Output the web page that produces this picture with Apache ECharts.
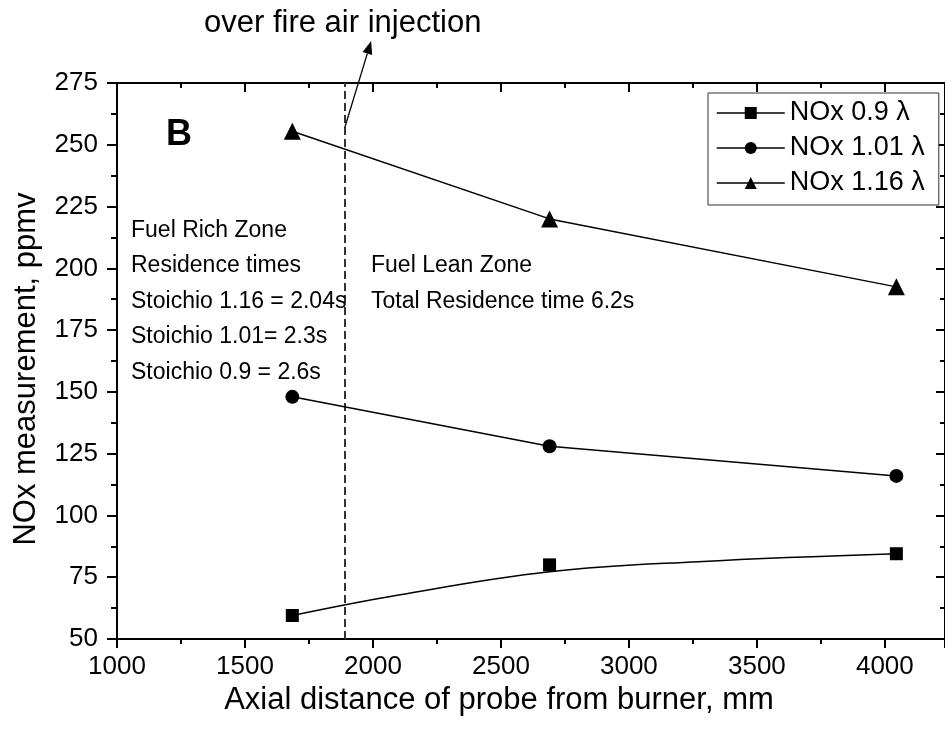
<!DOCTYPE html>
<html>
<head>
<meta charset="utf-8">
<script src="https://cdn.jsdelivr.net/npm/echarts@6/dist/echarts.min.js"></script>
<style>
  html, body { margin: 0; padding: 0; background: #fff; }
  #main { width: 945px; height: 729px; }
</style>
</head>
<body>
<div id="main"></div>
<script>
// probe positions (mm) and NOx readings (ppmv)
var distance = [1685, 2690, 4045];
var nox090 = [59.5, 80, 84.5];
var nox101 = [148, 128, 116];
var nox116 = [255.5, 220, 192.5];
// fitted curve drawn through the 0.9 points
var fitX = [1685, 2100, 2690, 3270, 4045];
var fitY = [59.5, 67.8, 77.2, 81.3, 84.5];
var xTicks = [1000, 1500, 2000, 2500, 3000, 3500, 4000];
var yTicks = [50, 75, 100, 125, 150, 175, 200, 225, 250, 275];
var ofaX = 1890;                       // over fire air injection
var arrowFrom = [1890, 257], arrowTo = [1993, 292];
var names = ['NOx 0.9 \u03bb', 'NOx 1.01 \u03bb', 'NOx 1.16 \u03bb'];

var FONT = '"Liberation Sans", Arial, sans-serif';

function pairs(xs, ys) {
  return xs.map(function (x, i) { return [x, ys[i]] })
}

var chart = echarts.init(document.getElementById('main'));

var axisLine = { lineStyle: { color: '#000', width: 2 } };

var option = {
  animation: false,
  backgroundColor: '#fff',
  textStyle: { fontFamily: FONT, color: '#000' },
  grid: { left: 117, top: 83, width: 830, height: 556 },
  legend: {
    orient: 'vertical',
    left: 708,
    top: 93,
    padding: [6, 14, 8, 8],
    itemGap: 7,
    itemWidth: 68,
    itemHeight: 15,
    borderColor: '#333',
    borderWidth: 1,
    backgroundColor: '#fff',
    textStyle: { fontFamily: FONT, fontSize: 27, color: '#000', lineHeight: 28 },
    lineStyle: { color: '#000', width: 1.5, opacity: 1 },
    data: names
  },
  xAxis: [
    {
      type: 'value',
      min: 1000,
      max: 4235,
      interval: 500,
      name: 'Axial distance of probe from burner, mm',
      nameLocation: 'middle',
      nameGap: 37,
      nameTextStyle: { fontFamily: FONT, fontSize: 31, color: '#000', padding: [0, 64, 0, 0] },
      axisLine: axisLine,
      axisTick: { length: 9, lineStyle: { width: 2, color: '#000' } },
      minorTick: { show: true, splitNumber: 2, length: 5, lineStyle: { width: 2, color: '#000' } },
      splitLine: { show: false },
      axisLabel: {
        fontFamily: FONT, fontSize: 26, color: '#000', margin: 15, showMaxLabel: false,
        formatter: function (v) { return xTicks.indexOf(v) >= 0 ? String(v) : '' }
      }
    },
    {
      type: 'value',
      position: 'top',
      min: 1000,
      max: 4235,
      interval: 500,
      axisLine: axisLine,
      axisTick: { inside: true, length: 9, lineStyle: { width: 2, color: '#000' } },
      minorTick: { show: true, splitNumber: 2, length: 5, lineStyle: { width: 2, color: '#000' } },
      splitLine: { show: false },
      axisLabel: { show: false }
    }
  ],
  yAxis: [
    {
      type: 'value',
      min: 50,
      max: 275,
      interval: 25,
      name: 'NOx measurement, ppmv',
      nameLocation: 'middle',
      nameGap: 75,
      nameTextStyle: { fontFamily: FONT, fontSize: 31, color: '#000', padding: [0, 16, 0, 0] },
      axisLine: axisLine,
      axisTick: { length: 10, lineStyle: { width: 2, color: '#000' } },
      minorTick: { show: true, splitNumber: 2, length: 6, lineStyle: { width: 2, color: '#000' } },
      splitLine: { show: false },
      axisLabel: {
        fontFamily: FONT, fontSize: 26, color: '#000', margin: 19,
        formatter: function (v) { return yTicks.indexOf(v) >= 0 ? String(v) : '' }
      }
    },
    {
      type: 'value',
      position: 'right',
      min: 50,
      max: 275,
      interval: 25,
      axisLine: axisLine,
      axisTick: { inside: true, length: 9, lineStyle: { width: 2, color: '#000' } },
      minorTick: { show: true, splitNumber: 2, length: 5, lineStyle: { width: 2, color: '#000' } },
      splitLine: { show: false },
      axisLabel: { show: false }
    }
  ],
  series: [
    {
      name: names[0],
      type: 'line',
      data: pairs(distance, nox090),
      symbol: 'rect',
      symbolSize: 13,
      itemStyle: { color: '#000' },
      lineStyle: { width: 0, opacity: 0 },
      z: 5
    },
    {
      name: names[1],
      type: 'line',
      data: pairs(distance, nox101),
      symbol: 'circle',
      symbolSize: 14,
      itemStyle: { color: '#000' },
      lineStyle: { color: '#000', width: 1.5 },
      z: 5
    },
    {
      name: names[2],
      type: 'line',
      data: pairs(distance, nox116),
      symbol: 'triangle',
      symbolSize: 17,
      itemStyle: { color: '#000' },
      lineStyle: { color: '#000', width: 1.5 },
      z: 5,
      markLine: {
        silent: true,
        symbol: 'none',
        label: { show: false },
        lineStyle: { color: '#333', width: 2, type: [8, 4] },
        data: [{ xAxis: ofaX }]
      }
    },
    {
      name: 'fit 0.9',
      type: 'line',
      data: pairs(fitX, fitY),
      smooth: 0.4,
      symbol: 'none',
      lineStyle: { color: '#000', width: 1.5 },
      z: 4
    }
  ]
};

chart.setOption(option);

// annotation texts and the arrow to the injection line
var p0 = chart.convertToPixel({ gridIndex: 0 }, arrowFrom);
var p1 = chart.convertToPixel({ gridIndex: 0 }, arrowTo);
var ang = Math.atan2(p1[1] - p0[1], p1[0] - p0[0]);
var headLen = 13, headW = 5;
var bx = p1[0] - headLen * Math.cos(ang), by = p1[1] - headLen * Math.sin(ang);
var nx = -Math.sin(ang), ny = Math.cos(ang);

function txt(x, y, s, size, bold) {
  return {
    type: 'text', left: x, top: y - size * 0.6, z: 10,
    style: { text: s, font: (bold ? 'bold ' : '') + size + 'px ' + FONT, fill: '#000' }
  }
}

var leftNotes = ['Fuel Rich Zone', 'Residence times', 'Stoichio 1.16 = 2.04s', 'Stoichio 1.01= 2.3s', 'Stoichio 0.9 = 2.6s'];
var leftY = [233, 268, 304, 339, 375];
var graphics = [];
leftNotes.forEach(function (s, i) { graphics.push(txt(131, leftY[i], s, 23)) });
graphics.push(txt(371, 268, 'Fuel Lean Zone', 23));
graphics.push(txt(371, 304, 'Total Residence time 6.2s', 23));
graphics.push(txt(166, 139, 'B', 36, true));
graphics.push(txt(204, 27, 'over fire air injection', 31));
graphics.push({
  type: 'line', z: 10,
  shape: { x1: p0[0], y1: p0[1], x2: bx, y2: by },
  style: { stroke: '#000', lineWidth: 1.3 }
});
graphics.push({
  type: 'polygon', z: 10,
  shape: { points: [[p1[0], p1[1]], [bx + nx * headW, by + ny * headW], [bx - nx * headW, by - ny * headW]] },
  style: { fill: '#000' }
});

chart.setOption({ graphic: graphics });
</script>
</body>
</html>
